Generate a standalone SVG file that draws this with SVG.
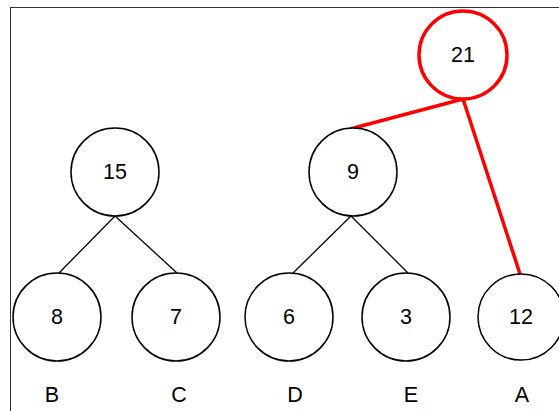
<svg xmlns="http://www.w3.org/2000/svg" width="559" height="411" viewBox="0 0 559 411">
<style>
.n{fill:#fff;stroke:#000;stroke-width:1.5}
.r{fill:#fff;stroke:#ff0000;stroke-width:3.5}
.t{font-family:"Liberation Sans",Arial,sans-serif;font-size:21.5px;fill:#000;text-anchor:middle;dominant-baseline:central}
.e{stroke:#000;stroke-width:1.3;fill:none}
.re{stroke:#ff0000;stroke-width:3.5;fill:none}
</style>
<rect x="10.5" y="7.5" width="560" height="420" fill="#fff" stroke="#333" stroke-width="1"/>
<g id="connectors">
<line class="e" x1="115" y1="216" x2="59" y2="273"/>
<line class="e" x1="115" y1="216" x2="177" y2="273"/>
<line class="e" x1="351" y1="216" x2="293" y2="273"/>
<line class="e" x1="351" y1="216" x2="408" y2="273"/>
<line class="re" x1="463" y1="99" x2="350" y2="129"/>
<line class="re" x1="463" y1="99" x2="520" y2="274"/>
</g>
<g id="n21"><circle class="r" cx="463" cy="55" r="44"/><text class="t" x="463" y="55">21</text></g>
<g id="n15"><circle class="n" cx="115" cy="172" r="44"/><text class="t" x="115" y="172">15</text></g>
<g id="n9"><circle class="n" cx="353" cy="172" r="44"/><text class="t" x="353" y="172">9</text></g>
<g id="n8"><circle class="n" cx="57" cy="317" r="44"/><text class="t" x="57" y="317">8</text></g>
<g id="n7"><circle class="n" cx="176" cy="317" r="44"/><text class="t" x="176" y="317">7</text></g>
<g id="n6"><circle class="n" cx="289" cy="317" r="44"/><text class="t" x="289" y="317">6</text></g>
<g id="n3"><circle class="n" cx="406" cy="317" r="44"/><text class="t" x="406" y="317">3</text></g>
<g id="n12"><circle class="n" cx="521" cy="317" r="43"/><text class="t" x="521" y="317">12</text></g>
<g id="labels">
<text class="t" x="52" y="395">B</text>
<text class="t" x="179" y="395">C</text>
<text class="t" x="295" y="395">D</text>
<text class="t" x="411" y="395">E</text>
<text class="t" x="522" y="395">A</text>
</g>
</svg>
